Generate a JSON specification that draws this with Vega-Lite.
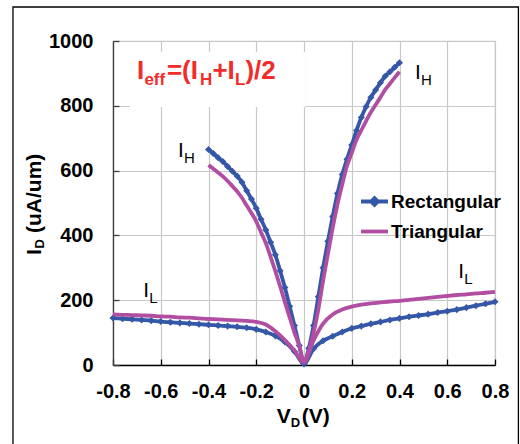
{
  "$schema": "https://vega.github.io/schema/vega-lite/v6.json",
  "width": 382,
  "height": 324,
  "autosize": {"type": "none"},
  "padding": {"left": 113, "top": 41, "right": 25, "bottom": 79},
  "background": "white",
  "config": {
    "font": "Liberation Sans",
    "view": {"stroke": "#c8c8c8", "strokeWidth": 1.2},
    "axis": {
      "labelFont": "Liberation Sans",
      "labelFontSize": 20,
      "labelFontWeight": "bold",
      "labelColor": "#000",
      "gridColor": "#c8c8c8",
      "gridWidth": 1.2,
      "tickSize": -6,
      "tickWidth": 1.3,
      "domainWidth": 1.3,
      "labelFlush": false,
      "labelOverlap": false
    }
  },
  "datasets": {
    "curves": [
      {"series": "Rectangular", "branch": "IH", "VD": -0.40, "ID": 665},
      {"series": "Rectangular", "branch": "IH", "VD": -0.38, "ID": 653},
      {"series": "Rectangular", "branch": "IH", "VD": -0.36, "ID": 640},
      {"series": "Rectangular", "branch": "IH", "VD": -0.34, "ID": 628},
      {"series": "Rectangular", "branch": "IH", "VD": -0.32, "ID": 613},
      {"series": "Rectangular", "branch": "IH", "VD": -0.30, "ID": 598},
      {"series": "Rectangular", "branch": "IH", "VD": -0.28, "ID": 583},
      {"series": "Rectangular", "branch": "IH", "VD": -0.26, "ID": 564},
      {"series": "Rectangular", "branch": "IH", "VD": -0.24, "ID": 538},
      {"series": "Rectangular", "branch": "IH", "VD": -0.22, "ID": 512},
      {"series": "Rectangular", "branch": "IH", "VD": -0.20, "ID": 484},
      {"series": "Rectangular", "branch": "IH", "VD": -0.18, "ID": 450},
      {"series": "Rectangular", "branch": "IH", "VD": -0.16, "ID": 417},
      {"series": "Rectangular", "branch": "IH", "VD": -0.14, "ID": 379},
      {"series": "Rectangular", "branch": "IH", "VD": -0.12, "ID": 340},
      {"series": "Rectangular", "branch": "IH", "VD": -0.10, "ID": 291},
      {"series": "Rectangular", "branch": "IH", "VD": -0.08, "ID": 239},
      {"series": "Rectangular", "branch": "IH", "VD": -0.06, "ID": 181},
      {"series": "Rectangular", "branch": "IH", "VD": -0.04, "ID": 122},
      {"series": "Rectangular", "branch": "IH", "VD": -0.02, "ID": 60},
      {"series": "Rectangular", "branch": "IH", "VD": 0.00, "ID": 5},
      {"series": "Rectangular", "branch": "IH", "VD": 0.02, "ID": 52},
      {"series": "Rectangular", "branch": "IH", "VD": 0.04, "ID": 122},
      {"series": "Rectangular", "branch": "IH", "VD": 0.06, "ID": 211},
      {"series": "Rectangular", "branch": "IH", "VD": 0.08, "ID": 300},
      {"series": "Rectangular", "branch": "IH", "VD": 0.10, "ID": 382},
      {"series": "Rectangular", "branch": "IH", "VD": 0.12, "ID": 458},
      {"series": "Rectangular", "branch": "IH", "VD": 0.14, "ID": 529},
      {"series": "Rectangular", "branch": "IH", "VD": 0.16, "ID": 588},
      {"series": "Rectangular", "branch": "IH", "VD": 0.18, "ID": 635},
      {"series": "Rectangular", "branch": "IH", "VD": 0.20, "ID": 679},
      {"series": "Rectangular", "branch": "IH", "VD": 0.22, "ID": 724},
      {"series": "Rectangular", "branch": "IH", "VD": 0.24, "ID": 764},
      {"series": "Rectangular", "branch": "IH", "VD": 0.26, "ID": 797},
      {"series": "Rectangular", "branch": "IH", "VD": 0.28, "ID": 826},
      {"series": "Rectangular", "branch": "IH", "VD": 0.30, "ID": 849},
      {"series": "Rectangular", "branch": "IH", "VD": 0.32, "ID": 871},
      {"series": "Rectangular", "branch": "IH", "VD": 0.34, "ID": 891},
      {"series": "Rectangular", "branch": "IH", "VD": 0.36, "ID": 905},
      {"series": "Rectangular", "branch": "IH", "VD": 0.38, "ID": 919},
      {"series": "Rectangular", "branch": "IH", "VD": 0.40, "ID": 933},
      {"series": "Rectangular", "branch": "IL", "VD": -0.80, "ID": 145},
      {"series": "Rectangular", "branch": "IL", "VD": -0.76, "ID": 143},
      {"series": "Rectangular", "branch": "IL", "VD": -0.72, "ID": 141},
      {"series": "Rectangular", "branch": "IL", "VD": -0.68, "ID": 139},
      {"series": "Rectangular", "branch": "IL", "VD": -0.64, "ID": 137},
      {"series": "Rectangular", "branch": "IL", "VD": -0.60, "ID": 134},
      {"series": "Rectangular", "branch": "IL", "VD": -0.56, "ID": 132},
      {"series": "Rectangular", "branch": "IL", "VD": -0.52, "ID": 130},
      {"series": "Rectangular", "branch": "IL", "VD": -0.48, "ID": 128},
      {"series": "Rectangular", "branch": "IL", "VD": -0.44, "ID": 126},
      {"series": "Rectangular", "branch": "IL", "VD": -0.40, "ID": 124},
      {"series": "Rectangular", "branch": "IL", "VD": -0.36, "ID": 122},
      {"series": "Rectangular", "branch": "IL", "VD": -0.32, "ID": 120},
      {"series": "Rectangular", "branch": "IL", "VD": -0.28, "ID": 118},
      {"series": "Rectangular", "branch": "IL", "VD": -0.24, "ID": 115},
      {"series": "Rectangular", "branch": "IL", "VD": -0.20, "ID": 110},
      {"series": "Rectangular", "branch": "IL", "VD": -0.16, "ID": 102},
      {"series": "Rectangular", "branch": "IL", "VD": -0.12, "ID": 90},
      {"series": "Rectangular", "branch": "IL", "VD": -0.08, "ID": 71},
      {"series": "Rectangular", "branch": "IL", "VD": -0.04, "ID": 42},
      {"series": "Rectangular", "branch": "IL", "VD": 0.00, "ID": 3},
      {"series": "Rectangular", "branch": "IL", "VD": 0.04, "ID": 50},
      {"series": "Rectangular", "branch": "IL", "VD": 0.08, "ID": 75},
      {"series": "Rectangular", "branch": "IL", "VD": 0.12, "ID": 89},
      {"series": "Rectangular", "branch": "IL", "VD": 0.16, "ID": 102},
      {"series": "Rectangular", "branch": "IL", "VD": 0.20, "ID": 113},
      {"series": "Rectangular", "branch": "IL", "VD": 0.24, "ID": 120},
      {"series": "Rectangular", "branch": "IL", "VD": 0.28, "ID": 127},
      {"series": "Rectangular", "branch": "IL", "VD": 0.32, "ID": 133},
      {"series": "Rectangular", "branch": "IL", "VD": 0.36, "ID": 139},
      {"series": "Rectangular", "branch": "IL", "VD": 0.40, "ID": 144},
      {"series": "Rectangular", "branch": "IL", "VD": 0.44, "ID": 149},
      {"series": "Rectangular", "branch": "IL", "VD": 0.48, "ID": 153},
      {"series": "Rectangular", "branch": "IL", "VD": 0.52, "ID": 157},
      {"series": "Rectangular", "branch": "IL", "VD": 0.56, "ID": 162},
      {"series": "Rectangular", "branch": "IL", "VD": 0.60, "ID": 166},
      {"series": "Rectangular", "branch": "IL", "VD": 0.64, "ID": 171},
      {"series": "Rectangular", "branch": "IL", "VD": 0.68, "ID": 177},
      {"series": "Rectangular", "branch": "IL", "VD": 0.72, "ID": 183},
      {"series": "Rectangular", "branch": "IL", "VD": 0.76, "ID": 189},
      {"series": "Rectangular", "branch": "IL", "VD": 0.80, "ID": 195},
      {"series": "Triangular", "branch": "IH", "VD": -0.40, "ID": 617},
      {"series": "Triangular", "branch": "IH", "VD": -0.38, "ID": 606},
      {"series": "Triangular", "branch": "IH", "VD": -0.36, "ID": 594},
      {"series": "Triangular", "branch": "IH", "VD": -0.34, "ID": 582},
      {"series": "Triangular", "branch": "IH", "VD": -0.32, "ID": 568},
      {"series": "Triangular", "branch": "IH", "VD": -0.30, "ID": 552},
      {"series": "Triangular", "branch": "IH", "VD": -0.28, "ID": 536},
      {"series": "Triangular", "branch": "IH", "VD": -0.26, "ID": 516},
      {"series": "Triangular", "branch": "IH", "VD": -0.24, "ID": 492},
      {"series": "Triangular", "branch": "IH", "VD": -0.22, "ID": 469},
      {"series": "Triangular", "branch": "IH", "VD": -0.20, "ID": 443},
      {"series": "Triangular", "branch": "IH", "VD": -0.18, "ID": 409},
      {"series": "Triangular", "branch": "IH", "VD": -0.16, "ID": 376},
      {"series": "Triangular", "branch": "IH", "VD": -0.14, "ID": 334},
      {"series": "Triangular", "branch": "IH", "VD": -0.12, "ID": 290},
      {"series": "Triangular", "branch": "IH", "VD": -0.10, "ID": 243},
      {"series": "Triangular", "branch": "IH", "VD": -0.08, "ID": 194},
      {"series": "Triangular", "branch": "IH", "VD": -0.06, "ID": 147},
      {"series": "Triangular", "branch": "IH", "VD": -0.04, "ID": 100},
      {"series": "Triangular", "branch": "IH", "VD": -0.02, "ID": 60},
      {"series": "Triangular", "branch": "IH", "VD": 0.00, "ID": 10},
      {"series": "Triangular", "branch": "IH", "VD": 0.02, "ID": 44},
      {"series": "Triangular", "branch": "IH", "VD": 0.04, "ID": 99},
      {"series": "Triangular", "branch": "IH", "VD": 0.06, "ID": 171},
      {"series": "Triangular", "branch": "IH", "VD": 0.08, "ID": 260},
      {"series": "Triangular", "branch": "IH", "VD": 0.10, "ID": 342},
      {"series": "Triangular", "branch": "IH", "VD": 0.12, "ID": 422},
      {"series": "Triangular", "branch": "IH", "VD": 0.14, "ID": 495},
      {"series": "Triangular", "branch": "IH", "VD": 0.16, "ID": 557},
      {"series": "Triangular", "branch": "IH", "VD": 0.18, "ID": 614},
      {"series": "Triangular", "branch": "IH", "VD": 0.20, "ID": 655},
      {"series": "Triangular", "branch": "IH", "VD": 0.22, "ID": 695},
      {"series": "Triangular", "branch": "IH", "VD": 0.24, "ID": 724},
      {"series": "Triangular", "branch": "IH", "VD": 0.26, "ID": 753},
      {"series": "Triangular", "branch": "IH", "VD": 0.28, "ID": 780},
      {"series": "Triangular", "branch": "IH", "VD": 0.30, "ID": 803},
      {"series": "Triangular", "branch": "IH", "VD": 0.32, "ID": 826},
      {"series": "Triangular", "branch": "IH", "VD": 0.34, "ID": 850},
      {"series": "Triangular", "branch": "IH", "VD": 0.36, "ID": 868},
      {"series": "Triangular", "branch": "IH", "VD": 0.38, "ID": 887},
      {"series": "Triangular", "branch": "IH", "VD": 0.40, "ID": 905},
      {"series": "Triangular", "branch": "IL", "VD": -0.80, "ID": 156},
      {"series": "Triangular", "branch": "IL", "VD": -0.76, "ID": 155},
      {"series": "Triangular", "branch": "IL", "VD": -0.72, "ID": 154},
      {"series": "Triangular", "branch": "IL", "VD": -0.68, "ID": 153},
      {"series": "Triangular", "branch": "IL", "VD": -0.64, "ID": 152},
      {"series": "Triangular", "branch": "IL", "VD": -0.60, "ID": 150},
      {"series": "Triangular", "branch": "IL", "VD": -0.56, "ID": 149},
      {"series": "Triangular", "branch": "IL", "VD": -0.52, "ID": 147},
      {"series": "Triangular", "branch": "IL", "VD": -0.48, "ID": 146},
      {"series": "Triangular", "branch": "IL", "VD": -0.44, "ID": 144},
      {"series": "Triangular", "branch": "IL", "VD": -0.40, "ID": 142},
      {"series": "Triangular", "branch": "IL", "VD": -0.36, "ID": 141},
      {"series": "Triangular", "branch": "IL", "VD": -0.32, "ID": 139},
      {"series": "Triangular", "branch": "IL", "VD": -0.28, "ID": 138},
      {"series": "Triangular", "branch": "IL", "VD": -0.24, "ID": 136},
      {"series": "Triangular", "branch": "IL", "VD": -0.20, "ID": 133},
      {"series": "Triangular", "branch": "IL", "VD": -0.16, "ID": 125},
      {"series": "Triangular", "branch": "IL", "VD": -0.12, "ID": 104},
      {"series": "Triangular", "branch": "IL", "VD": -0.08, "ID": 77},
      {"series": "Triangular", "branch": "IL", "VD": -0.04, "ID": 45},
      {"series": "Triangular", "branch": "IL", "VD": 0.00, "ID": 8},
      {"series": "Triangular", "branch": "IL", "VD": 0.04, "ID": 76},
      {"series": "Triangular", "branch": "IL", "VD": 0.08, "ID": 128},
      {"series": "Triangular", "branch": "IL", "VD": 0.12, "ID": 156},
      {"series": "Triangular", "branch": "IL", "VD": 0.16, "ID": 171},
      {"series": "Triangular", "branch": "IL", "VD": 0.20, "ID": 180},
      {"series": "Triangular", "branch": "IL", "VD": 0.24, "ID": 186},
      {"series": "Triangular", "branch": "IL", "VD": 0.28, "ID": 190},
      {"series": "Triangular", "branch": "IL", "VD": 0.32, "ID": 193},
      {"series": "Triangular", "branch": "IL", "VD": 0.36, "ID": 196},
      {"series": "Triangular", "branch": "IL", "VD": 0.40, "ID": 198},
      {"series": "Triangular", "branch": "IL", "VD": 0.44, "ID": 201},
      {"series": "Triangular", "branch": "IL", "VD": 0.48, "ID": 204},
      {"series": "Triangular", "branch": "IL", "VD": 0.52, "ID": 207},
      {"series": "Triangular", "branch": "IL", "VD": 0.56, "ID": 210},
      {"series": "Triangular", "branch": "IL", "VD": 0.60, "ID": 213},
      {"series": "Triangular", "branch": "IL", "VD": 0.64, "ID": 216},
      {"series": "Triangular", "branch": "IL", "VD": 0.68, "ID": 218},
      {"series": "Triangular", "branch": "IL", "VD": 0.72, "ID": 221},
      {"series": "Triangular", "branch": "IL", "VD": 0.76, "ID": 223},
      {"series": "Triangular", "branch": "IL", "VD": 0.80, "ID": 226}
    ],
    "tags": [
      {"x": -0.528, "y": 643, "m": "I", "s": "H"},
      {"x": 0.465, "y": 883, "m": "I", "s": "H"},
      {"x": -0.673, "y": 211, "m": "I", "s": "L"},
      {"x": 0.646, "y": 268, "m": "I", "s": "L"}
    ],
    "formula": [
      {"x": -0.70, "y": 882, "p1": "I", "p2": "eff", "p3": "=(I", "p4": "H", "p5": "+I", "p6": "L", "p7": ")/2"}
    ],
    "xtitle": [{"x": -0.114, "y": -180, "a": "V", "b": "D", "c": "(V)"}],
    "ytitle": [{"x": -1.1016, "y": 339.5, "a": "I", "b": "D", "c": "(uA/um)"}]
  },
  "layer": [
    {
      "data": {"values": [{"bx1": -0.729, "bx2": 0.006, "by1": 796, "by2": 966}]},
      "mark": {"type": "rect", "fill": "white"},
      "encoding": {
        "x": {
          "field": "bx1", "type": "quantitative", "title": null,
          "scale": {"domain": [-0.8, 0.8], "nice": false, "zero": false},
          "axis": {
            "values": [-0.8, -0.6, -0.4, -0.2, 0, 0.2, 0.4, 0.6, 0.8],
            "labelExpr": "datum.value == 0 ? '0' : (datum.value < 0 ? '-' : '') + format(abs(datum.value), '.1f')",
            "domainColor": "#000", "tickColor": "#000", "labelPadding": 22.5
          }
        },
        "x2": {"field": "bx2"},
        "y": {
          "field": "by1", "type": "quantitative", "title": null,
          "scale": {"domain": [0, 1000], "nice": false, "zero": false},
          "axis": {
            "values": [0, 200, 400, 600, 800, 1000], "format": "d",
            "domainColor": "#3c3c3c", "tickColor": "#3c3c3c", "labelPadding": 26
          }
        },
        "y2": {"field": "by2"}
      }
    },
    {
      "data": {"values": [{"fx1": -1.219, "fx2": 0.898, "fy1": -300, "fy2": 1105}]},
      "mark": {"type": "rect", "fill": "transparent", "stroke": "#000", "strokeWidth": 1.3},
      "encoding": {
        "x": {"field": "fx1", "type": "quantitative", "title": null},
        "x2": {"field": "fx2"},
        "y": {"field": "fy1", "type": "quantitative", "title": null},
        "y2": {"field": "fy2"}
      }
    },
    {
      "data": {"name": "curves"},
      "transform": [{"filter": "datum.series == 'Rectangular'"}],
      "mark": {"type": "line", "strokeWidth": 3.8, "interpolate": "monotone"},
      "encoding": {
        "x": {"field": "VD", "type": "quantitative", "title": null},
        "y": {"field": "ID", "type": "quantitative", "title": null},
        "detail": {"field": "branch"},
        "color": {
          "field": "series", "type": "nominal",
          "scale": {"domain": ["Rectangular", "Triangular"], "range": ["#3557a7", "#b14ea2"]},
          "legend": {
            "title": null, "orient": "none", "legendX": 246, "legendY": 145,
            "symbolSize": 729, "symbolStrokeWidth": 3.8,
            "labelFont": "Liberation Sans", "labelFontSize": 19, "labelFontWeight": "bold", "labelColor": "#000",
            "labelOffset": 1, "rowPadding": 3, "padding": 0,
            "encode": {
              "symbols": {
                "update": {
                  "shape": {"signal": "datum.value === 'Rectangular' ? 'M-1,0H1M0,-0.25L0.25,0L0,0.25L-0.25,0Z' : 'M-1,0H1'"},
                  "fill": {"signal": "datum.value === 'Rectangular' ? '#3557a7' : '#b14ea2'"},
                  "stroke": {"signal": "datum.value === 'Rectangular' ? '#3557a7' : '#b14ea2'"},
                  "opacity": {"value": 1},
                  "fillOpacity": {"value": 1},
                  "strokeWidth": {"value": 3.8}
                }
              }
            }
          }
        }
      }
    },
    {
      "data": {"name": "curves"},
      "transform": [{"filter": "datum.series == 'Rectangular'"}],
      "mark": {"type": "point", "shape": "diamond", "filled": true, "size": 50, "opacity": 1},
      "encoding": {
        "x": {"field": "VD", "type": "quantitative", "title": null},
        "y": {"field": "ID", "type": "quantitative", "title": null},
        "color": {"field": "series", "type": "nominal"}
      }
    },
    {
      "data": {"name": "curves"},
      "transform": [{"filter": "datum.series == 'Triangular'"}],
      "mark": {"type": "line", "strokeWidth": 3.8, "interpolate": "monotone"},
      "encoding": {
        "x": {"field": "VD", "type": "quantitative", "title": null},
        "y": {"field": "ID", "type": "quantitative", "title": null},
        "detail": {"field": "branch"},
        "color": {"field": "series", "type": "nominal"}
      }
    },
    {
      "data": {"name": "tags"},
      "mark": {"type": "text", "align": "left", "baseline": "alphabetic", "font": "Liberation Sans", "fontSize": 21, "color": "#000"},
      "encoding": {
        "x": {"field": "x", "type": "quantitative", "title": null},
        "y": {"field": "y", "type": "quantitative", "title": null},
        "text": {"field": "m"}
      }
    },
    {
      "data": {"name": "tags"},
      "mark": {"type": "text", "align": "left", "baseline": "alphabetic", "font": "Liberation Sans", "fontSize": 15, "color": "#000", "dx": 6, "dy": 6},
      "encoding": {
        "x": {"field": "x", "type": "quantitative", "title": null},
        "y": {"field": "y", "type": "quantitative", "title": null},
        "text": {"field": "s"}
      }
    },
    {
      "data": {"name": "formula"},
      "mark": {"type": "text", "align": "left", "baseline": "alphabetic", "font": "Liberation Sans", "fontSize": 26, "fontWeight": "bold", "color": "#f22b2b"},
      "encoding": {
        "x": {"field": "x", "type": "quantitative", "title": null},
        "y": {"field": "y", "type": "quantitative", "title": null},
        "text": {"field": "p1"}
      }
    },
    {
      "data": {"name": "formula"},
      "mark": {"type": "text", "align": "left", "baseline": "alphabetic", "font": "Liberation Sans", "fontSize": 17, "fontWeight": "bold", "color": "#f22b2b", "dx": 7.5, "dy": 6},
      "encoding": {
        "x": {"field": "x", "type": "quantitative", "title": null},
        "y": {"field": "y", "type": "quantitative", "title": null},
        "text": {"field": "p2"}
      }
    },
    {
      "data": {"name": "formula"},
      "mark": {"type": "text", "align": "left", "baseline": "alphabetic", "font": "Liberation Sans", "fontSize": 26, "fontWeight": "bold", "color": "#f22b2b", "dx": 30},
      "encoding": {
        "x": {"field": "x", "type": "quantitative", "title": null},
        "y": {"field": "y", "type": "quantitative", "title": null},
        "text": {"field": "p3"}
      }
    },
    {
      "data": {"name": "formula"},
      "mark": {"type": "text", "align": "left", "baseline": "alphabetic", "font": "Liberation Sans", "fontSize": 17, "fontWeight": "bold", "color": "#f22b2b", "dx": 63, "dy": 6},
      "encoding": {
        "x": {"field": "x", "type": "quantitative", "title": null},
        "y": {"field": "y", "type": "quantitative", "title": null},
        "text": {"field": "p4"}
      }
    },
    {
      "data": {"name": "formula"},
      "mark": {"type": "text", "align": "left", "baseline": "alphabetic", "font": "Liberation Sans", "fontSize": 26, "fontWeight": "bold", "color": "#f22b2b", "dx": 75.5},
      "encoding": {
        "x": {"field": "x", "type": "quantitative", "title": null},
        "y": {"field": "y", "type": "quantitative", "title": null},
        "text": {"field": "p5"}
      }
    },
    {
      "data": {"name": "formula"},
      "mark": {"type": "text", "align": "left", "baseline": "alphabetic", "font": "Liberation Sans", "fontSize": 17, "fontWeight": "bold", "color": "#f22b2b", "dx": 98, "dy": 6},
      "encoding": {
        "x": {"field": "x", "type": "quantitative", "title": null},
        "y": {"field": "y", "type": "quantitative", "title": null},
        "text": {"field": "p6"}
      }
    },
    {
      "data": {"name": "formula"},
      "mark": {"type": "text", "align": "left", "baseline": "alphabetic", "font": "Liberation Sans", "fontSize": 26, "fontWeight": "bold", "color": "#f22b2b", "dx": 108.5},
      "encoding": {
        "x": {"field": "x", "type": "quantitative", "title": null},
        "y": {"field": "y", "type": "quantitative", "title": null},
        "text": {"field": "p7"}
      }
    },
    {
      "data": {"name": "xtitle"},
      "mark": {"type": "text", "align": "left", "baseline": "alphabetic", "font": "Liberation Sans", "fontSize": 21, "fontWeight": "bold", "color": "#000"},
      "encoding": {
        "x": {"field": "x", "type": "quantitative", "title": null},
        "y": {"field": "y", "type": "quantitative", "title": null},
        "text": {"field": "a"}
      }
    },
    {
      "data": {"name": "xtitle"},
      "mark": {"type": "text", "align": "left", "baseline": "alphabetic", "font": "Liberation Sans", "fontSize": 13, "fontWeight": "bold", "color": "#000", "dx": 14, "dy": 3.5},
      "encoding": {
        "x": {"field": "x", "type": "quantitative", "title": null},
        "y": {"field": "y", "type": "quantitative", "title": null},
        "text": {"field": "b"}
      }
    },
    {
      "data": {"name": "xtitle"},
      "mark": {"type": "text", "align": "left", "baseline": "alphabetic", "font": "Liberation Sans", "fontSize": 21, "fontWeight": "bold", "color": "#000", "dx": 25},
      "encoding": {
        "x": {"field": "x", "type": "quantitative", "title": null},
        "y": {"field": "y", "type": "quantitative", "title": null},
        "text": {"field": "c"}
      }
    },
    {
      "data": {"name": "ytitle"},
      "mark": {"type": "text", "align": "left", "baseline": "alphabetic", "angle": 270, "font": "Liberation Sans", "fontSize": 21, "fontWeight": "bold", "color": "#000"},
      "encoding": {
        "x": {"field": "x", "type": "quantitative", "title": null},
        "y": {"field": "y", "type": "quantitative", "title": null},
        "text": {"field": "a"}
      }
    },
    {
      "data": {"name": "ytitle"},
      "mark": {"type": "text", "align": "left", "baseline": "alphabetic", "angle": 270, "font": "Liberation Sans", "fontSize": 13, "fontWeight": "bold", "color": "#000", "dx": 6.5, "dy": 3.5},
      "encoding": {
        "x": {"field": "x", "type": "quantitative", "title": null},
        "y": {"field": "y", "type": "quantitative", "title": null},
        "text": {"field": "b"}
      }
    },
    {
      "data": {"name": "ytitle"},
      "mark": {"type": "text", "align": "left", "baseline": "alphabetic", "angle": 270, "font": "Liberation Sans", "fontSize": 21, "fontWeight": "bold", "color": "#000", "dx": 22},
      "encoding": {
        "x": {"field": "x", "type": "quantitative", "title": null},
        "y": {"field": "y", "type": "quantitative", "title": null},
        "text": {"field": "c"}
      }
    }
  ]
}
